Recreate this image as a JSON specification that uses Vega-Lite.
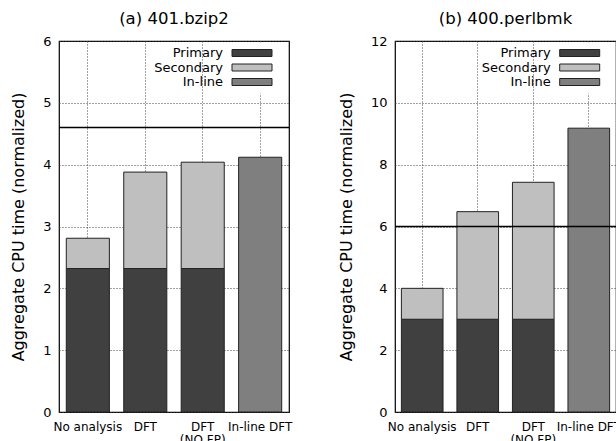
{
  "$schema": "https://vega.github.io/schema/vega-lite/v6.json",
  "padding": {"left": 10, "top": 9, "right": 0, "bottom": 0},
  "background": "white",
  "spacing": 44,
  "datasets": {
    "bzip2": [
      {"config": "No analysis", "part": "Primary", "time": 2.32},
      {"config": "No analysis", "part": "Secondary", "time": 0.49},
      {"config": "DFT", "part": "Primary", "time": 2.32},
      {"config": "DFT", "part": "Secondary", "time": 1.56},
      {"config": "DFT (NO FP)", "part": "Primary", "time": 2.32},
      {"config": "DFT (NO FP)", "part": "Secondary", "time": 1.72},
      {"config": "In-line DFT", "part": "In-line", "time": 4.12}
    ],
    "perlbmk": [
      {"config": "No analysis", "part": "Primary", "time": 3.0},
      {"config": "No analysis", "part": "Secondary", "time": 1.0},
      {"config": "DFT", "part": "Primary", "time": 3.0},
      {"config": "DFT", "part": "Secondary", "time": 3.48},
      {"config": "DFT (NO FP)", "part": "Primary", "time": 3.0},
      {"config": "DFT (NO FP)", "part": "Secondary", "time": 4.43},
      {"config": "In-line DFT", "part": "In-line", "time": 9.18}
    ],
    "bzip2_ref": [{"level": 4.6}],
    "perlbmk_ref": [{"level": 6.0}]
  },
  "hconcat": [
    {
      "width": 230,
      "height": 371,
      "title": {"text": "(a) 401.bzip2"},
      "layer": [
        {
          "data": {"name": "bzip2"},
          "mark": {"type": "bar", "stroke": "#222", "strokeWidth": 1},
          "encoding": {
            "x": {"field": "config", "type": "nominal", "sort": ["No analysis", "DFT", "DFT (NO FP)", "In-line DFT"],
                  "scale": {"paddingInner": 0.25, "paddingOuter": 0.127},
                  "axis": {"title": null}},
            "y": {"field": "time", "type": "quantitative", "stack": "zero",
                  "scale": {"domain": [0, 6], "nice": false},
                  "axis": {"title": "Aggregate CPU time (normalized)", "values": [0, 1, 2, 3, 4, 5, 6], "format": "d"}},
            "color": {"field": "part", "type": "nominal",
                      "scale": {"domain": ["Primary", "Secondary", "In-line"], "range": ["#404040", "#bfbfbf", "#7f7f7f"]},
                      "legend": {"title": null, "orient": "none", "legendX": 162.5, "legendY": 1.5}},
            "order": {"field": "part", "sort": "ascending"}
          }
        },
        {
          "data": {"name": "bzip2_ref"},
          "mark": {"type": "rule", "color": "black", "strokeWidth": 1.6},
          "encoding": {"y": {"field": "level", "type": "quantitative"}}
        }
      ]
    },
    {
      "width": 221,
      "height": 371,
      "title": {"text": "(b) 400.perlbmk"},
      "layer": [
        {
          "data": {"name": "perlbmk"},
          "mark": {"type": "bar", "stroke": "#222", "strokeWidth": 1},
          "encoding": {
            "x": {"field": "config", "type": "nominal", "sort": ["No analysis", "DFT", "DFT (NO FP)", "In-line DFT"],
                  "scale": {"paddingInner": 0.25, "paddingOuter": 0.115},
                  "axis": {"title": null}},
            "y": {"field": "time", "type": "quantitative", "stack": "zero",
                  "scale": {"domain": [0, 12], "nice": false},
                  "axis": {"title": "Aggregate CPU time (normalized)", "values": [0, 2, 4, 6, 8, 10, 12], "format": "d"}},
            "color": {"field": "part", "type": "nominal",
                      "scale": {"domain": ["Primary", "Secondary", "In-line"], "range": ["#404040", "#bfbfbf", "#7f7f7f"]},
                      "legend": {"title": null, "orient": "none", "legendX": 154.2, "legendY": 1.5}},
            "order": {"field": "part", "sort": "ascending"}
          }
        },
        {
          "data": {"name": "perlbmk_ref"},
          "mark": {"type": "rule", "color": "black", "strokeWidth": 1.6},
          "encoding": {"y": {"field": "level", "type": "quantitative"}}
        }
      ]
    }
  ],
  "resolve": {"scale": {"color": "independent", "x": "independent", "y": "independent"}, "legend": {"color": "independent"}},
  "config": {
    "font": "DejaVu Sans",
    "view": {"stroke": "black", "strokeWidth": 1.2},
    "title": {"font": "DejaVu Sans", "fontSize": 16.5, "fontWeight": "normal", "color": "black", "offset": 8},
    "axis": {
      "domain": false,
      "ticks": false,
      "labelFont": "DejaVu Sans",
      "labelColor": "black",
      "titleFont": "DejaVu Sans",
      "titleFontWeight": "normal",
      "titleColor": "black",
      "gridColor": "#444",
      "gridDash": [1, 2],
      "gridWidth": 1,
      "gridOpacity": 1
    },
    "axisY": {"labelFontSize": 13, "titleFontSize": 16, "labelPadding": 8, "titlePadding": 16, "grid": true},
    "axisX": {"labelFontSize": 12, "labelAngle": 0, "labelPadding": 9, "grid": true, "bandPosition": 0.5,
              "labelExpr": "datum.value == 'DFT (NO FP)' ? ['DFT', '(NO FP)'] : datum.value", "labelLineHeight": 13},
    "legend": {
      "padding": 4,
      "fillColor": "white",
      "labelFont": "DejaVu Sans",
      "labelFontSize": 13,
      "labelColor": "black",
      "labelAlign": "right",
      "labelOffset": -35.5,
      "symbolType": "M-4,-0.7H4V0.7H-4Z",
      "symbolSize": 100,
      "symbolOffset": 20,
      "symbolStrokeColor": "#222",
      "symbolStrokeWidth": 1,
      "rowPadding": 0.5
    }
  }
}
